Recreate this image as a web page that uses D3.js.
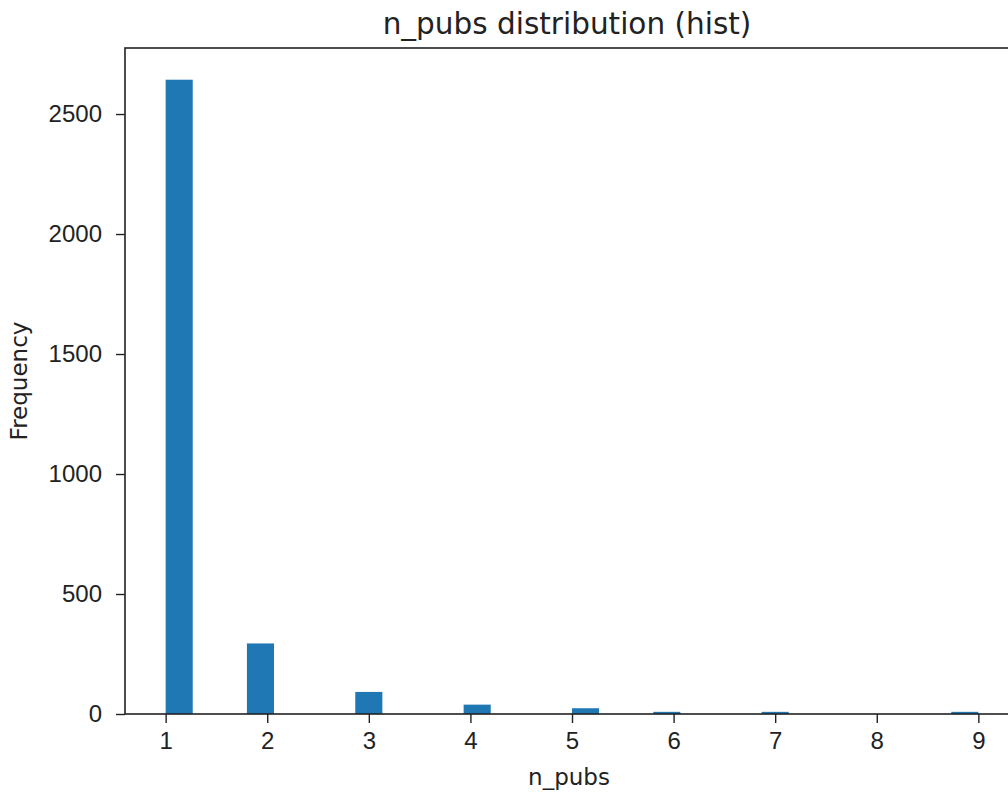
<!DOCTYPE html>
<html>
<head>
<meta charset="utf-8">
<script src="https://cdn.jsdelivr.net/npm/d3@7"></script>
<style>
  html, body { margin: 0; padding: 0; background: #fff; }
  svg { display: block; font-family: "DejaVu Sans", sans-serif; }
  .tick text { fill: #222; font-size: 24px; }
  .tick line { stroke: #222; stroke-width: 1.4; }
  .domain { display: none; }
</style>
</head>
<body>
<div id="chart"></div>
<script>
// Data: number of pubs and how many rows had that count.
const nPubs = [1, 2, 3, 4, 5, 6, 7, 8, 9];
const counts = [2643, 294, 92, 39, 24, 9, 9, 0, 9];
const xTicks = [1, 2, 3, 4, 5, 6, 7, 8, 9];
const yTicks = [0, 500, 1000, 1500, 2000, 2500];

// Histogram settings (matplotlib style: 30 bins over the data range)
const nBins = 30;
const binLo = d3.min(nPubs), binHi = d3.max(nPubs);
const binW = (binHi - binLo) / nBins;

// Dimensions of chart (right edge falls outside the window, as in the picture)
const W = 1008, H = 793;
const margin = { top: 48, left: 125, bottom: 79 };
const plotRight = 1019;
const plotBottom = H - margin.bottom;

let svg = d3.select("#chart").append("svg")
  .attr("width", W)
  .attr("height", H);

// put each value in its bin
let bars = nPubs.map(function(v, i) {
  let k = Math.min(Math.floor((v - binLo) / binW + 1e-9), nBins - 1);
  return { x0: binLo + k * binW, x1: binLo + (k + 1) * binW, n: counts[i] };
}).filter(d => d.n > 0);

// Scales: 5% padding like matplotlib
const xPad = (binHi - binLo) * 0.05;
let x = d3.scaleLinear()
  .domain([binLo - xPad, binHi + xPad])
  .range([margin.left, plotRight]);

let y = d3.scaleLinear()
  .domain([0, d3.max(counts) * 1.05])
  .range([plotBottom, margin.top]);

// Bars
svg.append("g")
  .selectAll("rect")
  .data(bars)
  .join("rect")
    .attr("x", d => x(d.x0))
    .attr("width", d => x(d.x1) - x(d.x0))
    .attr("y", d => y(d.n))
    .attr("height", d => y(0) - y(d.n))
    .attr("fill", "#1f77b4");

// Axes
let xAxis = d3.axisBottom(x)
  .tickValues(xTicks)
  .tickFormat(d3.format("d"))
  .tickSize(9)
  .tickPadding(9);
svg.append("g")
  .attr("transform", "translate(0," + plotBottom + ")")
  .call(xAxis);

let yAxis = d3.axisLeft(y)
  .tickValues(yTicks)
  .tickFormat(d3.format("d"))
  .tickSize(9)
  .tickPadding(14);
svg.append("g")
  .attr("transform", "translate(" + margin.left + ",0)")
  .call(yAxis);

// Frame (spines)
svg.append("rect")
  .attr("x", margin.left)
  .attr("y", margin.top)
  .attr("width", plotRight - margin.left)
  .attr("height", plotBottom - margin.top)
  .attr("fill", "none")
  .attr("stroke", "#222")
  .attr("stroke-width", 1.6);

// Title and axis labels
svg.append("text")
  .attr("x", (margin.left + plotRight) / 2 - 5)
  .attr("y", 34)
  .attr("text-anchor", "middle")
  .attr("fill", "#222")
  .style("font-size", "29.5px")
  .text("n_pubs distribution (hist)");

svg.append("text")
  .attr("x", (margin.left + plotRight) / 2 - 3)
  .attr("y", 785)
  .attr("text-anchor", "middle")
  .attr("fill", "#222")
  .style("font-size", "23px")
  .text("n_pubs");

svg.append("text")
  .attr("transform", "translate(27," + (margin.top + plotBottom) / 2 + ") rotate(-90)")
  .attr("text-anchor", "middle")
  .attr("fill", "#222")
  .style("font-size", "23px")
  .text("Frequency");
</script>
</body>
</html>
